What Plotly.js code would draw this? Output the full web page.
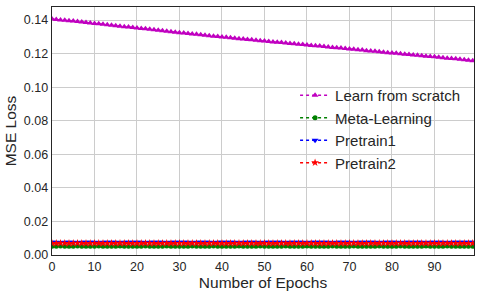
<!DOCTYPE html>
<html>
<head>
<meta charset="utf-8">
<script src="https://cdn.plot.ly/plotly-3.0.1.min.js"></script>
<style>html,body{margin:0;padding:0;background:#fff;}#chart{width:482px;height:295px;}</style>
</head>
<body>
<div id="chart"></div>
<script>
const epochs = [0,1,2,3,4,5,6,7,8,9,10,11,12,13,14,15,16,17,18,19,20,21,22,23,24,25,26,27,28,29,30,31,32,33,34,35,36,37,38,39,40,41,42,43,44,45,46,47,48,49,50,51,52,53,54,55,56,57,58,59,60,61,62,63,64,65,66,67,68,69,70,71,72,73,74,75,76,77,78,79,80,81,82,83,84,85,86,87,88,89,90,91,92,93,94,95,96,97,98,99];

const learnFromScratch = [
  0.1406,0.1404,0.1401,0.1399,0.1396,0.1394,0.1391,0.1388,0.1386,0.1383,
  0.1380,0.1378,0.1375,0.1372,0.1369,0.1367,0.1364,0.1361,0.1359,0.1356,
  0.1353,0.1350,0.1348,0.1346,0.1342,0.1339,0.1336,0.1334,0.1331,0.1328,
  0.1325,0.1323,0.1320,0.1317,0.1315,0.1312,0.1310,0.1307,0.1304,0.1302,
  0.1299,0.1297,0.1294,0.1292,0.1289,0.1287,0.1285,0.1283,0.1280,0.1277,
  0.1275,0.1273,0.1270,0.1268,0.1266,0.1263,0.1261,0.1259,0.1256,0.1254,
  0.1252,0.1249,0.1247,0.1245,0.1242,0.1240,0.1237,0.1235,0.1233,0.1230,
  0.1228,0.1226,0.1223,0.1221,0.1218,0.1216,0.1214,0.1211,0.1209,0.1206,
  0.1204,0.1202,0.1199,0.1197,0.1195,0.1192,0.1190,0.1188,0.1185,0.1183,
  0.1181,0.1178,0.1176,0.1173,0.1171,0.1169,0.1166,0.1164,0.1161,0.1158];

const metaLearning = [0.0052,0.0052,0.0053,0.0052,0.0052,0.0052,0.0053,0.0052,0.0052,0.0052,0.0052,0.0053,0.0052,0.0052,0.0052,0.0052,0.0053,0.0052,0.0052,0.0052,0.0052,0.0052,0.0053,0.0052,0.0052,0.0052,0.0052,0.0053,0.0052,0.0052,0.0052,0.0052,0.0052,0.0053,0.0052,0.0052,0.0052,0.0052,0.0053,0.0052,0.0052,0.0052,0.0052,0.0052,0.0053,0.0052,0.0052,0.0052,0.0052,0.0053,0.0052,0.0052,0.0052,0.0052,0.0052,0.0053,0.0052,0.0052,0.0052,0.0052,0.0053,0.0052,0.0052,0.0052,0.0052,0.0052,0.0053,0.0052,0.0052,0.0052,0.0052,0.0053,0.0052,0.0052,0.0052,0.0052,0.0052,0.0053,0.0052,0.0052,0.0052,0.0052,0.0053,0.0052,0.0052,0.0052,0.0052,0.0052,0.0053,0.0052,0.0052,0.0052,0.0052,0.0053,0.0052,0.0052,0.0052,0.0052,0.0052,0.0052];

const pretrain1 = [0.0076,0.0076,0.0075,0.0076,0.0076,0.0076,0.0075,0.0076,0.0076,0.0076,0.0076,0.0075,0.0076,0.0076,0.0076,0.0076,0.0075,0.0076,0.0076,0.0076,0.0076,0.0076,0.0075,0.0076,0.0076,0.0076,0.0076,0.0075,0.0076,0.0076,0.0076,0.0076,0.0076,0.0075,0.0076,0.0076,0.0076,0.0076,0.0075,0.0076,0.0076,0.0076,0.0076,0.0076,0.0075,0.0076,0.0076,0.0076,0.0076,0.0075,0.0076,0.0076,0.0076,0.0076,0.0076,0.0075,0.0076,0.0076,0.0076,0.0076,0.0075,0.0076,0.0076,0.0076,0.0076,0.0076,0.0075,0.0076,0.0076,0.0076,0.0076,0.0075,0.0076,0.0076,0.0076,0.0076,0.0076,0.0075,0.0076,0.0076,0.0076,0.0076,0.0075,0.0076,0.0076,0.0076,0.0076,0.0076,0.0075,0.0076,0.0076,0.0076,0.0076,0.0075,0.0076,0.0076,0.0076,0.0076,0.0076,0.0076];

const pretrain2 = [0.0070,0.0070,0.0071,0.0070,0.0070,0.0070,0.0071,0.0070,0.0070,0.0070,0.0070,0.0071,0.0070,0.0070,0.0070,0.0070,0.0071,0.0070,0.0070,0.0070,0.0070,0.0070,0.0071,0.0070,0.0070,0.0070,0.0070,0.0071,0.0070,0.0070,0.0070,0.0070,0.0070,0.0071,0.0070,0.0070,0.0070,0.0070,0.0071,0.0070,0.0070,0.0070,0.0070,0.0070,0.0071,0.0070,0.0070,0.0070,0.0070,0.0071,0.0070,0.0070,0.0070,0.0070,0.0070,0.0071,0.0070,0.0070,0.0070,0.0070,0.0071,0.0070,0.0070,0.0070,0.0070,0.0070,0.0071,0.0070,0.0070,0.0070,0.0070,0.0071,0.0070,0.0070,0.0070,0.0070,0.0070,0.0071,0.0070,0.0070,0.0070,0.0070,0.0071,0.0070,0.0070,0.0070,0.0070,0.0070,0.0071,0.0070,0.0070,0.0070,0.0070,0.0071,0.0070,0.0070,0.0070,0.0070,0.0070,0.0070];

const seriesNames = ["Learn from scratch", "Meta-Learning", "Pretrain1", "Pretrain2"];
const xTickVals = [0,10,20,30,40,50,60,70,80,90];
const yTickVals = [0,0.02,0.04,0.06,0.08,0.10,0.12,0.14];

function trace(y, name, color, symbol, size) {
  return {
    x: epochs, y: y, name: name, type: 'scatter', mode: 'lines+markers',
    line: {color: color, width: 1.5, dash: 'dot'},
    marker: {color: color, symbol: symbol, size: size, line: {width: 0}}
  };
}

const data = [
  trace(learnFromScratch, seriesNames[0], '#c000c0', 'triangle-up', 6),
  trace(metaLearning, seriesNames[1], '#008000', 'circle', 5),
  trace(pretrain1, seriesNames[2], '#0000ff', 'triangle-down', 6),
  trace(pretrain2, seriesNames[3], '#ff0000', 'star', 6)
];

const fontFam = '"Liberation Sans", Arial, sans-serif';
const layout = {
  width: 482, height: 295,
  margin: {l: 52, r: 8, t: 7, b: 40},
  paper_bgcolor: '#fff', plot_bgcolor: '#fff',
  font: {family: fontFam, color: '#262626'},
  showlegend: true,
  legend: {x: 0.576, y: 0.71, xanchor: 'left', yanchor: 'top', bgcolor: 'rgba(0,0,0,0)',
    font: {size: 15, family: fontFam, color: '#262626'}, tracegroupgap: 0},
  xaxis: {
    range: [0, 99.3], tickvals: xTickVals, ticktext: xTickVals.map(String),
    showgrid: true, gridcolor: '#cccccc', gridwidth: 1,
    showline: true, linecolor: '#262626', linewidth: 1.3, mirror: true,
    zeroline: false, ticks: '', tickfont: {size: 12.5, color: '#262626'},
    title: {text: 'Number of Epochs', font: {size: 15.5, color: '#262626'}, standoff: 3}
  },
  yaxis: {
    range: [0, 0.1478], tickvals: yTickVals, ticktext: yTickVals.map(v => v.toFixed(2)),
    showgrid: true, gridcolor: '#cccccc', gridwidth: 1,
    showline: true, linecolor: '#262626', linewidth: 1.3, mirror: true,
    zeroline: false, ticks: '', tickfont: {size: 12.5, color: '#262626'},
    title: {text: 'MSE Loss', font: {size: 15.5, color: '#262626'}, standoff: 3}
  }
};

Plotly.newPlot('chart', data, layout, {displayModeBar: false, staticPlot: true});
</script>
</body>
</html>
